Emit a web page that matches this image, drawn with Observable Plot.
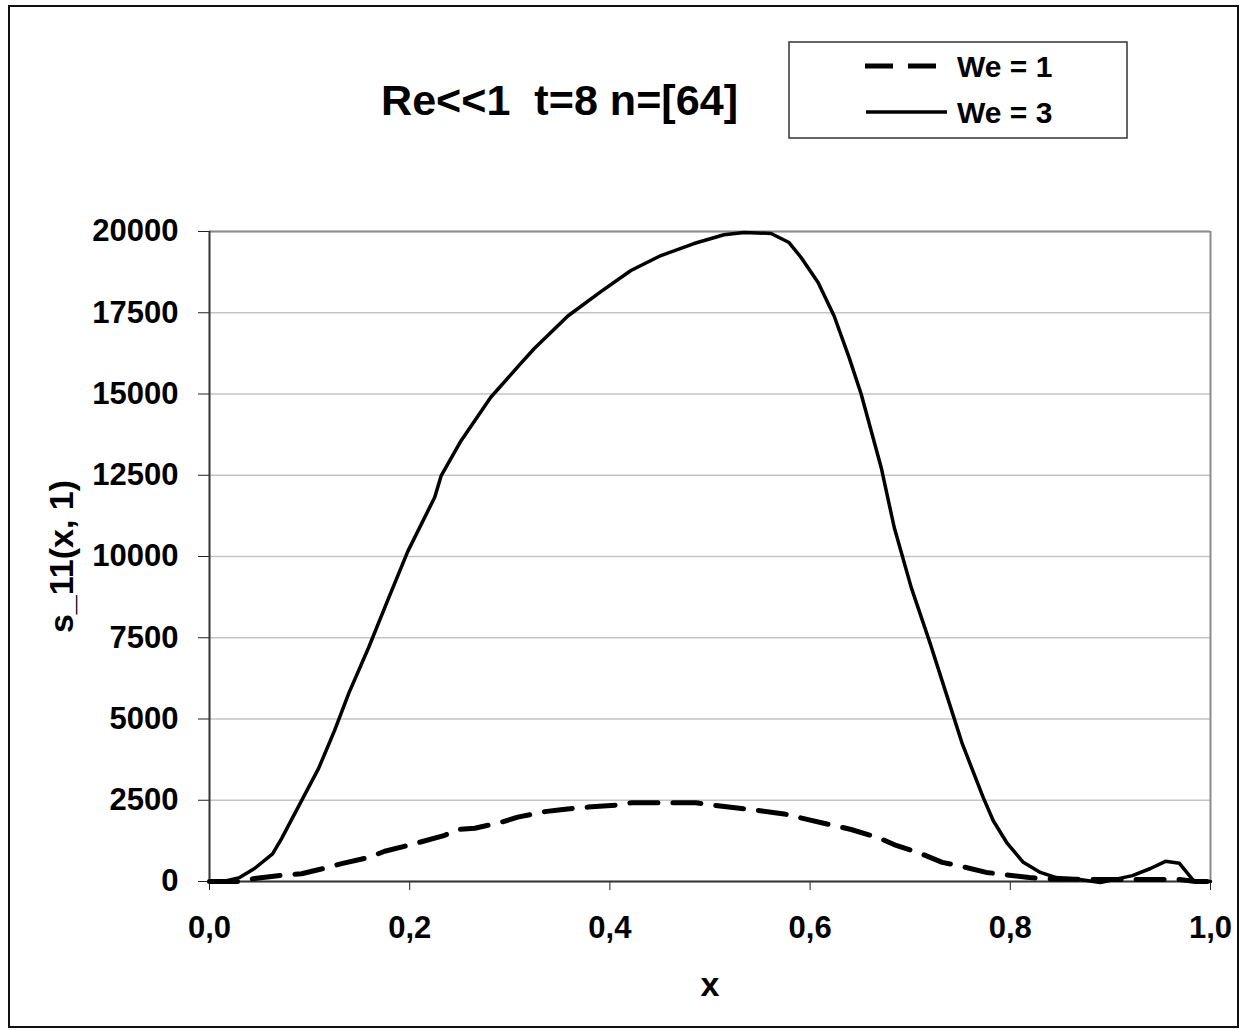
<!DOCTYPE html>
<html>
<head>
<meta charset="utf-8">
<script src="https://cdn.jsdelivr.net/npm/d3@7"></script>
<script src="https://cdn.jsdelivr.net/npm/@observablehq/plot@0.6"></script>
<style>
  html, body { margin: 0; padding: 0; background: #fff; }
  #wrap { position: relative; width: 1241px; height: 1030px; font-family: "Liberation Sans", Arial, sans-serif; }
  #border { position: absolute; left: 8px; top: 5px; width: 1227px; height: 1019px; border: 2px solid #111; pointer-events: none; }
  #chart, #overlay { position: absolute; left: 0; top: 0; }
</style>
</head>
<body>
<div id="wrap">
  <div id="chart"></div>
  <svg id="overlay" width="1241" height="1030"></svg>
  <div id="border"></div>
</div>
<script>
// ---- data ----
const titleText = "Re<<1  t=8 n=[64]";
const seriesNames = ["We = 1", "We = 3"];
const xTicks = [0, 0.2, 0.4, 0.6, 0.8, 1.0];
const yTicks = [0, 2500, 5000, 7500, 10000, 12500, 15000, 17500, 20000];

const xWe1 = [0, 0.029, 0.045, 0.072, 0.092, 0.114, 0.132, 0.159, 0.175, 0.202, 0.235, 0.247, 0.265, 0.291, 0.308, 0.335, 0.351, 0.378, 0.411, 0.421, 0.466, 0.486, 0.510, 0.550, 0.574, 0.597, 0.641, 0.668, 0.686, 0.708, 0.732, 0.752, 0.776, 0.819, 0.838, 0.886, 0.946, 0.969, 0.985, 1.0];
const yWe1 = [0, 0, 90, 190, 240, 400, 550, 740, 930, 1140, 1420, 1600, 1640, 1820, 1980, 2150, 2210, 2290, 2360, 2420, 2420, 2420, 2320, 2180, 2080, 1910, 1600, 1350, 1110, 890, 590, 460, 280, 120, 80, 60, 60, 60, 0, 0];

const xWe3 = [0, 0.016, 0.030, 0.045, 0.063, 0.072, 0.092, 0.109, 0.125, 0.139, 0.159, 0.178, 0.198, 0.225, 0.2315, 0.2515, 0.281, 0.311, 0.3245, 0.358, 0.391, 0.421, 0.451, 0.484, 0.514, 0.534, 0.561, 0.579, 0.591, 0.608, 0.624, 0.639, 0.651, 0.671, 0.684, 0.701, 0.720, 0.736, 0.752, 0.773, 0.783, 0.797, 0.813, 0.830, 0.846, 0.866, 0.890, 0.922, 0.940, 0.955, 0.969, 0.983, 1.0];
const yWe3 = [0, 20, 120, 400, 850, 1320, 2490, 3480, 4650, 5780, 7200, 8650, 10150, 11825, 12490, 13570, 14900, 15940, 16400, 17400, 18150, 18800, 19260, 19630, 19900, 19970, 19940, 19660, 19200, 18430, 17400, 16120, 15000, 12740, 10900, 9050, 7320, 5780, 4240, 2580, 1870, 1170, 590, 280, 120, 80, -30, 180, 400, 620, 560, 30, 0];

const xLabel = "x";
const yLabel = "s_11(x, 1)";

// ---- build ----
const we1 = xWe1.map((x, i) => ({x, y: yWe1[i]}));
const we3 = xWe3.map((x, i) => ({x, y: yWe3[i]}));
const FONT = "Liberation Sans, Arial, sans-serif";

const plot = Plot.plot({
  width: 1241,
  height: 1030,
  marginLeft: 209,
  marginRight: 31,
  marginTop: 231,
  marginBottom: 149,
  style: {fontFamily: FONT, fontWeight: "bold", fontSize: "31px", background: "transparent", color: "#000"},
  x: {domain: [0, 1]},
  y: {domain: [0, 20000]},
  marks: [
    Plot.gridY(yTicks, {stroke: "#c4c4c4", strokeOpacity: 1, strokeWidth: 1.5}),
    Plot.ruleY([20000], {stroke: "#8c8c8c", strokeWidth: 2}),
    Plot.ruleX([1], {stroke: "#8c8c8c", strokeWidth: 2}),
    Plot.axisY(yTicks, {tickSize: 11, tickPadding: 20, tickFormat: d3.format("d"), label: null, fontSize: 31, fontWeight: "bold", stroke: "#222"}),
    Plot.axisX(xTicks, {tickSize: 9, tickPadding: 25, tickFormat: d => d.toFixed(1).replace(".", ","), label: null, fontSize: 31, fontWeight: "bold", stroke: "#222"}),
    Plot.ruleX([0], {stroke: "#333", strokeWidth: 2}),
    Plot.ruleY([0], {stroke: "#333", strokeWidth: 2}),
    Plot.line(we1, {x: "x", y: "y", stroke: "#000", strokeWidth: 5, strokeDasharray: "28,15"}),
    Plot.line(we3, {x: "x", y: "y", stroke: "#000", strokeWidth: 3.5}),
    Plot.text([xLabel], {frameAnchor: "bottom", dy: 104, fontSize: 34, fontWeight: "bold", textAnchor: "middle", lineAnchor: "middle"}),
    Plot.text([yLabel], {frameAnchor: "left", dx: -147, rotate: -90, fontSize: 34, fontWeight: "bold", textAnchor: "middle", lineAnchor: "middle"})
  ]
});
document.getElementById("chart").appendChild(plot);

// ---- title and legend overlay ----
const ov = d3.select("#overlay").style("font-family", FONT);
ov.append("text")
  .attr("x", 381).attr("y", 115)
  .attr("font-size", 43).attr("font-weight", "bold")
  .attr("textLength", 357).attr("lengthAdjust", "spacingAndGlyphs")
  .style("white-space", "pre")
  .text(titleText);

ov.append("rect")
  .attr("x", 789).attr("y", 42).attr("width", 338).attr("height", 96)
  .attr("fill", "#fff").attr("stroke", "#333").attr("stroke-width", 1.5);

const rows = [
  {name: seriesNames[0], y: 66, dash: "28,15", w: 5, x1: 865, x2: 938},
  {name: seriesNames[1], y: 112, dash: null, w: 3.5, x1: 866, x2: 947}
];
rows.forEach(r => {
  ov.append("line").attr("x1", r.x1).attr("x2", r.x2).attr("y1", r.y).attr("y2", r.y)
    .attr("stroke", "#000").attr("stroke-width", r.w).attr("stroke-dasharray", r.dash);
  ov.append("text").attr("x", 957).attr("y", r.y).attr("dy", "0.36em")
    .attr("font-size", 30).attr("font-weight", "bold")
    .style("white-space", "pre")
    .text(r.name);
});
</script>
</body>
</html>
